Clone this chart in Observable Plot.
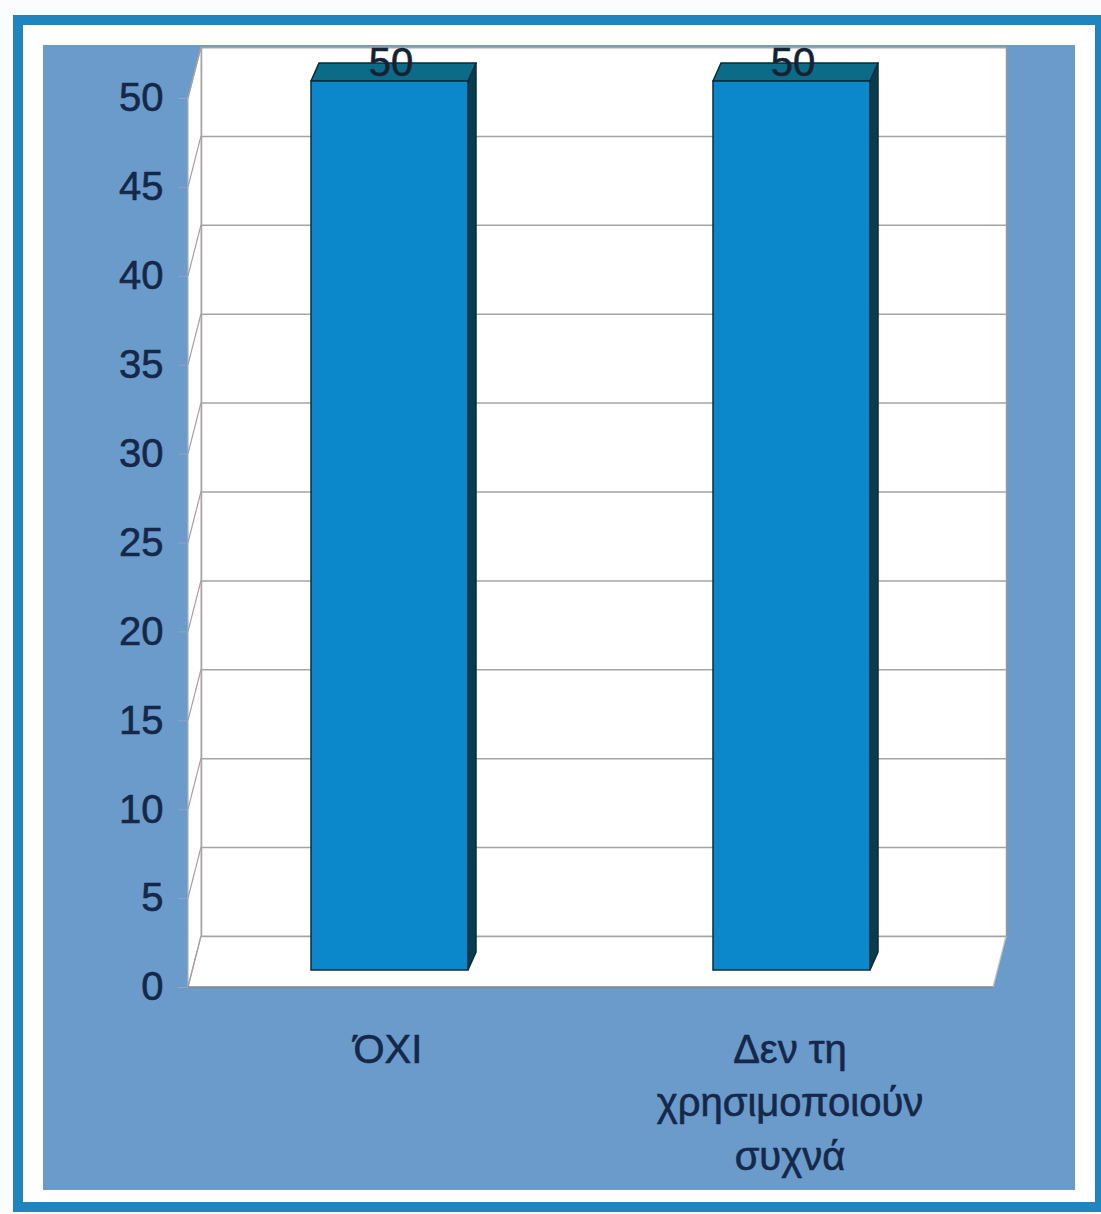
<!DOCTYPE html>
<html>
<head>
<meta charset="utf-8">
<script src="https://cdn.jsdelivr.net/npm/d3@7"></script>
<script src="https://cdn.jsdelivr.net/npm/@observablehq/plot@0.6"></script>
<style>
  html, body { margin: 0; padding: 0; background: #ffffff; }
  #wrap { position: relative; width: 1101px; height: 1214px; overflow: hidden; background: #fbfcfd; }
  #border { position: absolute; left: 13px; top: 15px; right: -4px; bottom: 2px; border: 10px solid #2085bf; box-sizing: border-box; background: #ffffff; }
  #panel { position: absolute; left: 43px; top: 45px; right: 26px; bottom: 24px; background: #6a9bca; }
  #chart { position: absolute; left: 0; top: 0; }
  #chart svg text { stroke: #15284a; stroke-width: 0.6px; }
</style>
</head>
<body>
<div id="wrap">
  <div id="border"></div>
  <div id="panel"></div>
  <div id="chart"></div>
</div>
<script>
// ---- data ----
const categories = ["ΌΧΙ", "Δεν τη χρησιμοποιούν συχνά"];
const counts = [50, 50];
const yTicks = [0, 5, 10, 15, 20, 25, 30, 35, 40, 45, 50];
const xTickLabels = ["ΌΧΙ", "Δεν τη\nχρησιμοποιούν\nσυχνά"];

const data = categories.map((c, i) => ({category: c, value: counts[i], label: xTickLabels[i]}));

// 3D offsets (pixels)
const WALL_DX = 13, WALL_DY = -51;   // back wall depth
const BAR_DX = 5, BAR_DY = -17;      // bar front face depth
const BAR_DEPTH_DX = 8, BAR_DEPTH_DY = -18; // bar thickness

const navy = "#15284a";

function walls(index, scales, values, dims) {
  const y = scales.y;
  const L = dims.marginLeft, R = dims.width - dims.marginRight;
  const y0 = y(0), yTop = y(d3.max(yTicks));
  const g = d3.create("svg:g");
  // floor
  g.append("path")
    .attr("d", `M${L},${y0}L${R},${y0}L${R + WALL_DX},${y0 + WALL_DY}L${L + WALL_DX},${y0 + WALL_DY}Z`)
    .attr("fill", "white").attr("stroke", "none");
  // side wall
  g.append("path")
    .attr("d", `M${L},${yTop}L${L + WALL_DX},${yTop + WALL_DY}L${L + WALL_DX},${y0 + WALL_DY}L${L},${y0}Z`)
    .attr("fill", "white").attr("stroke", "#b5b0b0").attr("stroke-width", 1.2);
  // diagonals at ticks
  for (const t of yTicks) {
    g.append("line")
      .attr("x1", L).attr("y1", y(t)).attr("x2", L + WALL_DX).attr("y2", y(t) + WALL_DY)
      .attr("stroke", "#a89e9e").attr("stroke-width", 1.2);
  }
  // floor right edge
  g.append("line")
    .attr("x1", R).attr("y1", y0).attr("x2", R + WALL_DX).attr("y2", y0 + WALL_DY)
    .attr("stroke", "#c8c8c8").attr("stroke-width", 1.2);
  // front floor edge
  g.append("line")
    .attr("x1", L).attr("y1", y0).attr("x2", R).attr("y2", y0)
    .attr("stroke", "#858585").attr("stroke-width", 1.5);
  return g.node();
}

function barSides(index, scales) {
  const x = scales.x, y = scales.y;
  const bw = typeof x.bandwidth === "function" ? x.bandwidth() : x.bandwidth;
  const g = d3.create("svg:g");
  data.forEach(d => {
    const x0 = x(d.category) + BAR_DX, x1 = x0 + bw;
    const yt = y(d.value) + BAR_DY, yb = y(0) + BAR_DY;
    g.append("path")
      .attr("d", `M${x1},${yt}L${x1 + BAR_DEPTH_DX},${yt + BAR_DEPTH_DY}L${x1 + BAR_DEPTH_DX},${yb + BAR_DEPTH_DY}L${x1},${yb}Z`)
      .attr("fill", "#083d50").attr("stroke", "#0a2c38").attr("stroke-width", 1.5);
    g.append("path")
      .attr("d", `M${x0},${yt}L${x1},${yt}L${x1 + BAR_DEPTH_DX},${yt + BAR_DEPTH_DY}L${x0 + BAR_DEPTH_DX},${yt + BAR_DEPTH_DY}Z`)
      .attr("fill", "#0c6b86").attr("stroke", "#0a2c38").attr("stroke-width", 1.5);
  });
  return g.node();
}

const chart = Plot.plot({
  width: 1101,
  height: 1214,
  marginTop: 98,
  marginBottom: 227,
  marginLeft: 188,
  marginRight: 108,
  style: {background: "transparent", fontFamily: "'Liberation Sans', Arial, sans-serif", overflow: "visible"},
  x: {type: "band", domain: categories, range: [188, 982], paddingInner: 0.6095, paddingOuter: 0.292},
  y: {domain: [0, 50]},
  marks: [
    Plot.frame({fill: "white", stroke: "#999999", strokeWidth: 1.5, dx: WALL_DX, dy: WALL_DY}),
    walls,
    Plot.ruleY(yTicks, {y: d => d, stroke: "#a5a5a5", strokeWidth: 1.5, dx: WALL_DX, dy: WALL_DY}),
    barSides,
    Plot.barY(data, {x: "category", y: "value", fill: "#0a88cb", stroke: "#0a2c38", strokeWidth: 1.5, dx: BAR_DX, dy: BAR_DY}),
    Plot.text(data, {x: "category", y: "value", text: d => String(d.value), dx: 6, dy: -35, fontSize: 40, fill: "#15222c"}),
    Plot.axisY({ticks: yTicks, tickSize: 10, tickPadding: 15, fontSize: 40, color: navy, stroke: "#8ea6bf", label: null}),
    Plot.axisX({tickSize: 0, tickPadding: 38, fontSize: 40, lineHeight: 1.33, color: navy, label: null, dx: 3,
      tickFormat: c => xTickLabels[categories.indexOf(c)]})
  ]
});
document.getElementById("chart").appendChild(chart);
</script>
</body>
</html>
